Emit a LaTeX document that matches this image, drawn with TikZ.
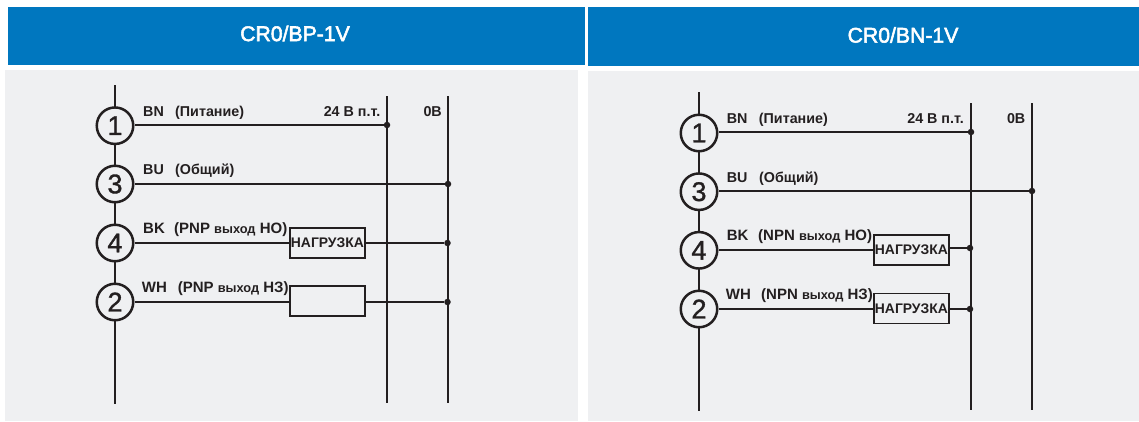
\documentclass[tikz,border=0pt]{standalone}
\usepackage{fontspec}
\setmainfont{Liberation Sans}
\newfontfamily\titlef[FakeBold=2.5]{Liberation Sans}
\newfontfamily\digitf[FakeBold=1.2]{Liberation Sans}
\definecolor{hdr}{HTML}{0077BF}
\definecolor{pnl}{HTML}{EFF0F2}
\definecolor{ink}{HTML}{231F20}
\tikzset{
  heading/.style={text=white,font=\titlef\fontsize{21.2}{24}\selectfont},
  bus/.style={draw=ink,line width=2.5pt},
  railthin/.style={draw=ink,line width=2pt},
  railthick/.style={draw=ink,line width=2.4pt},
  wire/.style={draw=ink,line width=2pt},
  pin/.style={circle,draw=ink,line width=2.5pt,fill=pnl,minimum size=36.5pt,inner sep=0,text=ink,font=\digitf\fontsize{27}{28}\selectfont},
  dot/.style={circle,fill=ink,draw=none,minimum size=6.5pt,inner sep=0},
  lbl/.style={anchor=base west,inner sep=0,text=ink,font=\bfseries\fontsize{14.3}{16}\selectfont},
  lblr/.style={anchor=base east,inner sep=0,text=ink,font=\bfseries\fontsize{14.3}{16}\selectfont},
  lblo/.style={anchor=base west,inner sep=0,text=ink,font=\bfseries\fontsize{15}{16}\selectfont},
  loadbox/.style={rectangle,draw=ink,line width=1.8pt,fill=pnl,minimum width=75pt,minimum height=30pt,inner sep=0,text=ink,font=\bfseries\fontsize{13.9}{15}\selectfont},
}
\newcommand{\lc}[1]{{\fontsize{12.8}{16}\selectfont #1}}
\begin{document}
\begin{tikzpicture}[x=1pt,y=-1pt]
\useasboundingbox (0,0) rectangle (1139,421);
\fill[white] (0,0) rectangle (1139,421);
% panels
\fill[pnl] (5,70) rectangle (578,421);
\fill[pnl] (588,71) rectangle (1139,421);
\fill[hdr] (8,7) rectangle (585,65);
\fill[hdr] (588,7) rectangle (1139,66);
\node[heading] (t1) at (295,33.5) {CR0/BP-1V};
\node[heading] (t2) at (903,35) {CR0/BN-1V};

% ---------- left diagram
\coordinate (atop) at (115,85);
\coordinate (abot) at (115,404);
\coordinate (ar1t) at (387,96);
\coordinate (ar1b) at (387,403);
\coordinate (ar2t) at (448,96);
\coordinate (ar2b) at (448,403);
\draw[bus] (atop) -- (abot);
\draw[railthin] (ar1t) -- (ar1b);
\draw[railthick] (ar2t) -- (ar2b);
\node[pin] (a1) at (115,125.7) {1};
\node[pin] (a3) at (115,184) {3};
\node[pin] (a4) at (115,243) {4};
\node[pin] (a2) at (115,302) {2};
\node[dot] (ad1) at (387,125) {};
\node[dot] (ad3) at (448,184) {};
\node[dot] (ad4) at (447.5,243) {};
\node[dot] (ad2) at (447.5,302) {};
\node[loadbox] (ab4) at (327.4,243) {НАГРУЗКА};
\node[loadbox] (ab2) at (327.4,301) {};
\draw[wire] (ad1 -| a1.east) -- (ad1);
\draw[wire] (ad3 -| a3.east) -- (ad3);
\draw[wire] (ab4.west -| a4.east) -- (ab4.west);
\draw[wire] (ab4.east) -- (ad4);
\draw[wire] (ad2 -| a2.east) -- (ad2 -| ab2.west);
\draw[wire] (ad2 -| ab2.east) -- (ad2);
\node[lbl] (al1) at (143,116) {BN};
\node[lbl] (al1b) at (175,116) {(Питание)};
\node[lblr] (av1) at (380.5,116) {24 В п.т.};
\node[lblr] (av2) at (442,116) {0В};
\node[lbl] (al3) at (143,174) {BU};
\node[lbl] (al3b) at (175,174) {(Общий)};
\node[lblo] (al4) at (143,233) {BK};
\node[lblo] (al4b) at (174,233) {(PNP \lc{выход} НО)};
\node[lblo] (al2) at (141.7,292) {WH};
\node[lblo] (al2b) at (177.6,292) {(PNP \lc{выход} НЗ)};

% ---------- right diagram
\coordinate (btop) at (699,92);
\coordinate (bbot) at (699,411);
\coordinate (br1t) at (971,103);
\coordinate (br1b) at (971,410);
\coordinate (br2t) at (1032,103);
\coordinate (br2b) at (1032,410);
\draw[bus] (btop) -- (bbot);
\draw[railthin] (br1t) -- (br1b);
\draw[railthick] (br2t) -- (br2b);
\node[pin] (b1) at (699,133) {1};
\node[pin] (b3) at (699,191.7) {3};
\node[pin] (b4) at (699,250.3) {4};
\node[pin] (b2) at (699,309) {2};
\node[dot] (bd1) at (971,132) {};
\node[dot] (bd3) at (1032,191) {};
\node[dot] (bd4) at (970,248) {};
\node[dot] (bd2) at (970,309) {};
\node[loadbox] (bb4) at (911.4,250) {НАГРУЗКА};
\node[loadbox] (bb2) at (911.4,308.5) {НАГРУЗКА};
\draw[wire] (bd1 -| b1.east) -- (bd1);
\draw[wire] (bd3 -| b3.east) -- (bd3);
\draw[wire] (bb4.west -| b4.east) -- (bb4.west);
\draw[wire] (bd4 -| bb4.east) -- (bd4);
\draw[wire] (bd2 -| b2.east) -- (bd2 -| bb2.west);
\draw[wire] (bd2 -| bb2.east) -- (bd2);
\node[lbl] (bl1) at (726.7,123) {BN};
\node[lbl] (bl1b) at (758.7,123) {(Питание)};
\node[lblr] (bv1) at (964,123) {24 В п.т.};
\node[lblr] (bv2) at (1025.5,123) {0В};
\node[lbl] (bl3) at (726.7,182.3) {BU};
\node[lbl] (bl3b) at (759,182.3) {(Общий)};
\node[lblo] (bl4) at (726.7,240.7) {BK};
\node[lblo] (bl4b) at (758,240.7) {(NPN \lc{выход} НО)};
\node[lblo] (bl2) at (725.7,299.7) {WH};
\node[lblo] (bl2b) at (761,299.7) {(NPN \lc{выход} НЗ)};
\end{tikzpicture}
\end{document}
